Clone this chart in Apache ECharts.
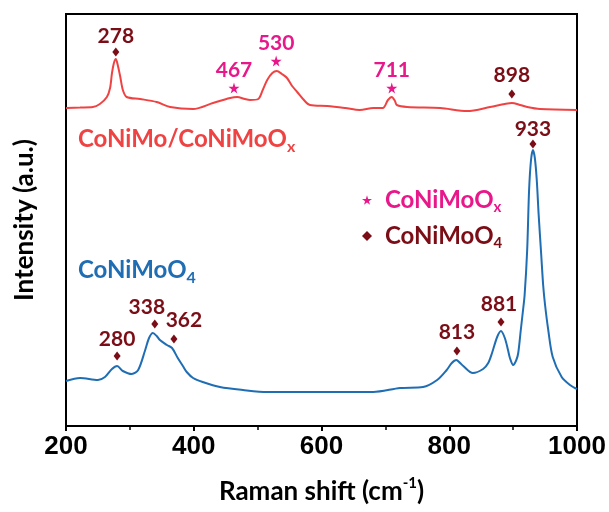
<!DOCTYPE html>
<html><head><meta charset="utf-8">
<script src="https://cdn.jsdelivr.net/npm/echarts@6/dist/echarts.min.js"></script>
<style>html,body{margin:0;padding:0;background:#fff}#c{width:609px;height:512px}</style>
</head><body><div id="c"></div>
<script>
// ---- data ----
const xTicks = [200, 400, 600, 800, 1000];

// CoNiMo/CoNiMoOx spectrum (offset upward, arbitrary units)
const redX = [200,222,242,253,264,269,272,275,278,281,285,289,295,316,342,363,399,430,457,468,480,488,501,508,515,523,530,538,546,554,562,571,582,609,637,660,681,696,704,710,715,718,734,786,828,864,887,898,911,922,942,1000];
const redY = [318,318.5,319,322,329,338,353,363,367,361,349,336,329,327,324,319,317,323,328,329,327,326,327,336,346,353,355,352,348,340,334,327,321,320,318,316,318,318,326,329,325,321,319,318,315,319,322,323,321,319,317,316];

// CoNiMoO4 spectrum
const blueX = [200,222,250,261,272,280,289,303,313,324,330,336,342,347,358,366,375,383,389,399,414,441,477,515,582,660,681,723,759,781,796,804,811,817,822,837,853,861,867,875,881,887,892,895,900,905,908,912,915,918,922,925,928,931,934,937,940,944,947,950,955,962,976,989,1000];
const blueY = [45,48,46,49,57,60,55,52,56,76,88,93,90,86,81,78,68,60,54,48,44,39,36,34,34,34,34,38,39,46,56,63,66,63,60,53,57,63,73,89,95,88,76,68,61,66,73,96,113,131,176,236,266,276,268,246,211,171,141,121,96,69,49,41,37];

// peak annotations
const starLabels = ['467', '530', '711'];
const starX = [463, 529, 710];
const starY = [338, 365, 338];

const diamondLabels = ['278', '898', '933', '280', '338', '362', '813', '881'];
const diamondX = [278, 898, 931, 280, 339, 369, 812, 881];
const diamondY = [374, 332, 282, 70, 102, 87, 75, 104];

// ---- styles ----
const RED = '#ef4343', BLUE = '#1f6db3', PINK = '#e8188b', DARK = '#7a0d16';
const FONT = 'Lato';
const starOffsets = [[0, -18], [0, -18], [0, -18]];
const diamondOffsets = [[0, -16], [0, -19], [0, -15], [0, -17], [-8, -17], [10, -19], [0, -19], [-2, -18]];
const STAR = 'path://M50,0 L61,35 L98,35 L68,57 L79,91 L50,70 L21,91 L32,57 L2,35 L39,35 Z';

const chart = echarts.init(document.getElementById('c'), null, {renderer: 'canvas'});
const lbl = (color) => ({show: true, position: 'inside', formatter: '{b}', color: color, fontFamily: FONT, fontWeight: 'bold', fontSize: 21, textBorderWidth: 0});
const sub = (color, size, lh, va) => ({fontFamily: FONT, fontWeight: 'bold', fontSize: size, color: color, fill: color, lineHeight: lh, verticalAlign: va});

chart.setOption({
  animation: false,
  backgroundColor: '#fff',
  grid: {left: 66, right: 32, top: 14, bottom: 86, show: true, borderColor: '#000', borderWidth: 2},
  xAxis: {
    type: 'value', min: xTicks[0], max: xTicks[xTicks.length - 1], interval: 200,
    name: '{a|Raman shift (cm}{s|-1}{a|)}', nameLocation: 'middle', nameGap: 50,
    nameTextStyle: {rich: {a: sub('#000', 26, 32), s: sub('#000', 15, 15, 'top')}},
    axisLine: {lineStyle: {color: '#000', width: 2}},
    axisTick: {show: true, length: 5, lineStyle: {color: '#000', width: 2}},
    minorTick: {show: true, splitNumber: 2, length: 4, lineStyle: {color: '#000', width: 1.5}},
    splitLine: {show: false}, minorSplitLine: {show: false},
    axisLabel: {fontFamily: 'Liberation Sans', fontWeight: 'bold', fontSize: 26, color: '#000', margin: 8, formatter: v => String(v)}
  },
  yAxis: {
    type: 'value', min: 0, max: 412,
    name: 'Intensity (a.u.)', nameLocation: 'middle', nameGap: 28,
    nameTextStyle: {fontFamily: FONT, fontWeight: 'bold', fontSize: 26, color: '#000'},
    axisLine: {show: true, lineStyle: {color: '#000', width: 2}},
    axisTick: {show: false}, axisLabel: {show: false}, splitLine: {show: false}
  },
  legend: {
    orient: 'vertical', left: 357, top: 183, itemGap: 9, itemWidth: 10, itemHeight: 10,
    data: ['CoNiMoOx', 'CoNiMoO4'],
    formatter: n => n === 'CoNiMoOx' ? '{p|CoNiMoO}{ps|x}' : '{d|CoNiMoO}{ds|4}',
    textStyle: {rich: {
      p: Object.assign(sub(PINK, 24, 30), {padding: [0, 0, 0, 8]}),
      ps: sub(PINK, 15, 15, 'bottom'),
      d: Object.assign(sub(DARK, 24, 30), {padding: [0, 0, 0, 8]}),
      ds: sub(DARK, 15, 15, 'bottom')
    }}
  },
  graphic: [
    {type: 'text', left: 78, top: 127, style: {
      text: '{a|CoNiMo/CoNiMoO}{s|x}',
      rich: {a: sub(RED, 24, 32), s: sub(RED, 16, 16, 'bottom')}}},
    {type: 'text', left: 78, top: 258, style: {
      text: '{a|CoNiMoO}{s|4}',
      rich: {a: sub(BLUE, 24, 32), s: sub(BLUE, 16, 16, 'bottom')}}}
  ],
  series: [
    {type: 'line', name: 'CoNiMo/CoNiMoOx', data: redX.map((x, i) => [x, redY[i]]), showSymbol: false, smooth: 0.3,
     lineStyle: {color: RED, width: 2}, z: 2},
    {type: 'line', name: 'CoNiMoO4 spectrum', data: blueX.map((x, i) => [x, blueY[i]]), showSymbol: false, smooth: 0.3,
     lineStyle: {color: BLUE, width: 2}, z: 2},
    {type: 'scatter', name: 'CoNiMoOx', symbol: STAR, symbolSize: 11, itemStyle: {color: PINK, opacity: 1}, z: 5,
     data: starX.map((x, i) => ({name: starLabels[i], value: [x, starY[i]], label: Object.assign(lbl(PINK), {offset: starOffsets[i]})}))},
    {type: 'scatter', name: 'CoNiMoO4', symbol: 'diamond', symbolSize: [7, 9], itemStyle: {color: DARK, opacity: 1}, z: 5,
     data: diamondX.map((x, i) => ({name: diamondLabels[i], value: [x, diamondY[i]], label: Object.assign(lbl(DARK), {offset: diamondOffsets[i]})}))}
  ]
});
</script></body></html>
